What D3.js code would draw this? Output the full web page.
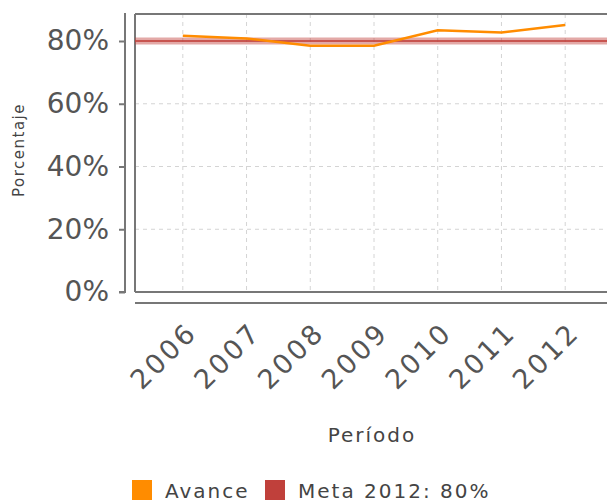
<!DOCTYPE html>
<html><head><meta charset="utf-8">
<script src="https://cdn.jsdelivr.net/npm/d3@7"></script>
<style>body{margin:0;background:#fff;} svg{display:block;font-family:"DejaVu Sans",sans-serif;}</style>
</head><body>
<script>
const years = ["2006","2007","2008","2009","2010","2011","2012"];
const avance = [81.7, 80.8, 78.5, 78.5, 83.4, 82.7, 85.1];
const meta = 80;
const yTicks = [0, 20, 40, 60, 80];
const legendLabels = ["Avance", "Meta 2012: 80%"];
const colors = ["#ff8c00", "#c0403b"];

const W = 607, H = 502;
const svg = d3.select("body").append("svg").attr("width", W).attr("height", H);
const pL = 135, pR = 613, pT = 14, pB = 292;
const x = d3.scalePoint().domain(years).range([pL, pR]).padding(0.75);
const y = d3.scaleLinear().domain([0, 80]).range([pB, 41]);

// grid
const g = svg.append("g");
g.selectAll(".hg").data(yTicks.filter(d => d > 0 && d < 80)).enter().append("line")
  .attr("x1", pL).attr("x2", W).attr("y1", d => y(d)).attr("y2", d => y(d))
  .attr("stroke", "#d4d4d4").attr("stroke-width", 1).attr("stroke-dasharray", "4,4");
g.selectAll(".vg").data(years).enter().append("line")
  .attr("x1", d => x(d)).attr("x2", d => x(d)).attr("y1", pT).attr("y2", pB)
  .attr("stroke", "#d4d4d4").attr("stroke-width", 1).attr("stroke-dasharray", "4,4");

// plot frame
svg.append("line").attr("x1", pL).attr("x2", W).attr("y1", pT).attr("y2", pT).attr("stroke", "#777").attr("stroke-width", 2);
svg.append("line").attr("x1", pL).attr("x2", pL).attr("y1", pT).attr("y2", pB).attr("stroke", "#777").attr("stroke-width", 2);
svg.append("line").attr("x1", pL).attr("x2", W).attr("y1", pB).attr("y2", pB).attr("stroke", "#777").attr("stroke-width", 2);

// meta line
svg.append("line").attr("x1", pL).attr("x2", W).attr("y1", y(meta)).attr("y2", y(meta))
  .attr("stroke", colors[1]).attr("stroke-opacity", 0.45).attr("stroke-width", 7);
svg.append("line").attr("x1", pL).attr("x2", W).attr("y1", y(meta)).attr("y2", y(meta))
  .attr("stroke", colors[1]).attr("stroke-opacity", 0.8).attr("stroke-width", 2);

// avance line
const line = d3.line().x((d, i) => x(years[i])).y(d => y(d));
svg.append("path").datum(avance).attr("d", line).attr("fill", "none")
  .attr("stroke", colors[0]).attr("stroke-width", 2.5);

// y axis
const ya = svg.append("g").attr("transform", "translate(125,0)")
  .call(d3.axisLeft(y).tickValues(yTicks).tickFormat(d => d + "%").tickSize(6).tickPadding(10));
ya.select(".domain").attr("stroke", "#777").attr("stroke-width", 2).attr("d", "M-6,292H0V13");
ya.selectAll(".tick line").attr("stroke", "#777").attr("stroke-width", 2);
ya.selectAll("text").attr("fill", "#555").attr("font-size", 28).attr("font-family", "DejaVu Sans");

// x axis
svg.append("line").attr("x1", pL).attr("x2", W).attr("y1", 303).attr("y2", 303).attr("stroke", "#777").attr("stroke-width", 2);
svg.selectAll(".xl").data(years).enter().append("text")
  .attr("transform", d => `translate(${x(d) + 16},334) rotate(-45)`)
  .attr("text-anchor", "end").attr("font-size", 27).attr("letter-spacing", 3)
  .attr("fill", "#555").text(d => d);

// axis titles
svg.append("text").attr("transform", "translate(24,150) rotate(-90)").attr("text-anchor", "middle")
  .attr("font-size", 15).attr("letter-spacing", 1.5).attr("fill", "#444").text("Porcentaje");
svg.append("text").attr("x", 372).attr("y", 442).attr("text-anchor", "middle")
  .attr("font-size", 20).attr("letter-spacing", 2).attr("fill", "#444").text("Período");

// legend
const lg = svg.append("g");
const lx = [132, 265];
legendLabels.forEach((t, i) => {
  lg.append("rect").attr("x", lx[i]).attr("y", 480).attr("width", 20).attr("height", 20).attr("fill", colors[i]);
  lg.append("text").attr("x", lx[i] + 33).attr("y", 498).attr("font-size", 20).attr("letter-spacing", 2)
    .attr("fill", "#444").text(t);
});
</script>
</body></html>
